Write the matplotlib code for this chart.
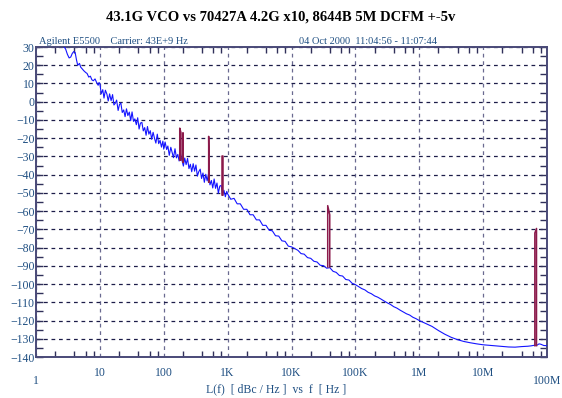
import matplotlib
matplotlib.use("Agg")
import matplotlib.pyplot as plt
from matplotlib.ticker import FixedLocator, NullFormatter

# --- data ---
# blue trace: L(f) in dBc/Hz vs offset frequency in Hz
trace_f = [
    2.6, 2.9, 3.1, 3.3, 3.5, 3.7, 3.9, 4.1, 4.3, 4.5, 4.8, 5.0, 5.3, 5.6, 6.0,
    6.3, 6.7, 7.1, 7.5, 7.9, 8.4, 8.9, 9.4, 9.7,
    10, 10.5, 11.1, 11.6, 12.2, 12.9, 13.5, 14.2, 15, 15.8, 16.6, 17.4, 18.3,
    19.3, 20.3, 21.3, 22.4, 23.6, 24.8, 26.1, 27.4, 28.9, 30.4, 31.9, 33.6,
    35.3, 37.2, 39.1, 41.1, 43.2, 45.5, 47.8, 50.3, 52.9, 55.6, 58.5, 61.5,
    64.7, 68.1, 71.6, 75.3, 79.2, 83.3, 87.6, 92.1, 96.9,
    100, 105, 111, 116, 122, 129, 135, 142, 150, 158, 166, 174, 183, 193, 203,
    213, 224, 236, 248, 261, 274, 289, 304, 319, 336, 353, 372, 391, 411, 432,
    455, 478, 503, 529, 556, 585, 615, 647, 681, 716, 753, 792, 833, 876, 921,
    969,
    1000, 1120, 1260, 1410, 1580, 1780, 2000, 2240, 2510, 2820, 3160, 3550,
    3980, 4470, 5010, 5620, 6310, 7080, 7940, 8910,
    10e3, 12.6e3, 14.1e3, 15.8e3, 17.8e3, 20e3, 22.4e3, 25.1e3, 28.2e3, 31.6e3,
    35.5e3, 39.8e3, 44.7e3, 50.1e3, 56.2e3, 63.1e3, 70.8e3, 79.4e3, 89.1e3,
    100e3, 126e3, 141e3, 158e3, 178e3, 200e3, 224e3, 251e3, 282e3, 316e3,
    355e3, 398e3, 447e3, 501e3, 562e3, 631e3, 708e3, 794e3, 891e3,
    1e6, 1.26e6, 1.58e6, 2e6, 2.51e6, 3.16e6, 3.98e6, 5.01e6, 6.31e6, 7.94e6,
    10e6, 12.6e6, 15.8e6, 20e6, 25e6, 31.6e6, 39.8e6, 50e6, 56e6, 63e6, 70e6,
    75e6, 80e6, 89e6, 100e6,
]
trace_l = [
    31, 29, 26, 24, 24.5, 26.5, 27.5, 27, 23, 20, 21, 19, 18, 17, 16,
    15.5, 13.5, 14, 12, 11.5, 12.5, 10.5, 9, 10.5,
    10, 4.3, 6.6, 2, 6.3, 4.1, 0.4, 4.3, 0.6, 3.9, -1.8, -0.9, 0.9,
    -4.8, -1.5, -0.7, -5.9, -4.5, -8.2, -3.9, -7.6, -5.7, -10.4, -5.6, -10.8,
    -9.4, -12.6, -8.8, -15, -11.7, -11.4, -16, -14.2, -18.4, -13.6, -17.8, -15.9,
    -20.6, -16.8, -20, -22.7, -17.8, -23, -21.2, -24.9, -21.6,
    -26, -22.1, -26.2, -24.3, -29.4, -25, -27.6, -30.7, -25.8, -30.8, -28.9, -32.5, -28.6, -32.2, -35.3,
    -30.9, -34.5, -31.1, -36.7, -34.3, -38.4, -34, -38.1, -34.7, -40.8, -38.4, -37, -42.1, -39.1, -44.2,
    -39.8, -43.4, -39.5, -45.6, -43.2, -47.3, -42.4, -47.5, -44.6, -50.2, -46.3, -45.9, -51, -48.6, -52.1,
    -49.2,
    -50.5, -53.5, -53, -56, -56, -59, -59, -62, -62, -64.8, -64.8, -67.8,
    -67.8, -70.5, -70.8, -73.5, -73.7, -76.3, -76.6, -79.2,
    -79.6, -81.5, -83.3, -83.6, -85.5, -85.9, -87.5, -87.9, -89.7, -89.9,
    -91.3, -91, -93, -93.6, -95.3, -95.6, -97.5, -97.8, -99.6,
    -100.3, -102.5, -103.2, -104.5, -105.3, -106.5, -107.2, -108.2, -109.3, -110.3,
    -111.2, -112.4, -113.2, -114.3, -115.3, -116.3, -117, -118.2, -119,
    -120, -121.6, -123.2, -125.5, -127.5, -129.2, -130.5, -131.5, -132.2, -132.8,
    -133.3, -133.6, -133.9, -134.2, -134.5, -134.6, -134.3, -134.1, -133.9, -133.6, -133.5,
    -132.8, -133, -133.7, -133.8,
]

# spurs (dark red): left/right frequency, left/right peak, baseline
spur_f_lo = [178, 199, 505, 830, 36.9e3, 64.5e6]
spur_f_hi = [186, 201, 512, 845, 39.7e3, 68.5e6]
spur_pk_lo = [-14.5, -17, -19, -30, -57, -72]
spur_pk_hi = [-17, -17, -37, -30, -62, -69.5]
spur_base = [-32, -33, -44, -51, -90.6, -133.8]

decades = [1, 10, 100, 1e3, 1e4, 1e5, 1e6, 1e7, 1e8]
decade_labels = ["1", "10", "100", "1K", "10K", "100K", "1M", "10M", "100M"]

title = "43.1G VCO vs 70427A 4.2G x10, 8644B 5M DCFM +-5v"
info_left = "Agilent E5500    Carrier: 43E+9 Hz"
info_right = "04 Oct 2000  11:04:56 - 11:07:44"

txt_color = "#1f4f82"
serif = "Liberation Serif"

fig = plt.figure(figsize=(5.62, 3.98), dpi=100)
ax = fig.add_axes([36 / 562, 1 - 357 / 398, 511 / 562, 310 / 398])

# trace and spurs
ax.plot(trace_f, trace_l, color="#1414ff", lw=0.8, zorder=3)
for i in range(len(spur_f_lo)):
    ax.plot([spur_f_lo[i], spur_f_lo[i], spur_f_hi[i], spur_f_hi[i]],
            [spur_base[i], spur_pk_lo[i], spur_pk_hi[i], spur_base[i]],
            color="#8b1a4b", lw=1.1, zorder=4)

ax.set_xscale("log")
ax.set_xlim(1, 1e8)
ax.set_ylim(-140, 30)

# ticks
ax.xaxis.set_major_locator(FixedLocator(decades))
ax.xaxis.set_major_formatter(NullFormatter())
minor_x = [m * d for d in decades[:-1] for m in (2, 4, 6, 8)]
ax.xaxis.set_minor_locator(FixedLocator(minor_x))
ax.xaxis.set_minor_formatter(NullFormatter())
ax.set_yticks(range(-140, 31, 10))
ax.set_yticks(range(-135, 30, 10), minor=True)
ax.tick_params(axis="x", which="major", length=0)
ax.tick_params(axis="x", which="minor", direction="in", length=4,
               width=1, color="#30305a", top=True, bottom=True)
ax.tick_params(axis="y", which="both", direction="in", length=5, width=1,
               color="#30305a", left=True, right=True, labelsize=8.5,
               labelcolor=txt_color, pad=1)
for lab in ax.get_yticklabels():
    lab.set_fontfamily(serif)

# grid
ax.yaxis.grid(True, which="major", color="#1c1c48", lw=0.9, linestyle=(0, (3, 3)))
ax.xaxis.grid(True, which="major", color="#6a6a90", lw=0.9, linestyle=(0, (3, 3)))
ax.set_axisbelow(True)

for s in ax.spines.values():
    s.set_color("#4a4a78")
    s.set_linewidth(1.4)

# x tick labels ("1" and "100M" sit lower)
for f, lab in zip(decades, decade_labels):
    dy = -0.078 if lab in ("1", "100M") else -0.052
    ax.text(f, dy, lab, transform=ax.get_xaxis_transform(), ha="center",
            va="center", fontsize=8.5, family=serif, color=txt_color)

fig.text(276 / 562, 1 - 389 / 398, "L(f)  [ dBc / Hz ]  vs  f  [ Hz ]",
         ha="center", va="center", fontsize=8.5, family=serif, color=txt_color)
fig.text(0.5, 1 - 17 / 398, title, ha="center", va="center", fontsize=10.5,
         fontweight="bold", family=serif, color="black")
fig.text(39 / 562, 1 - 41 / 398, info_left, ha="left", va="center",
         fontsize=7.5, family=serif, color=txt_color)
fig.text(299 / 562, 1 - 41 / 398, info_right, ha="left", va="center",
         fontsize=7.5, family=serif, color=txt_color)

fig.savefig("out.png", dpi=100, facecolor="white")
